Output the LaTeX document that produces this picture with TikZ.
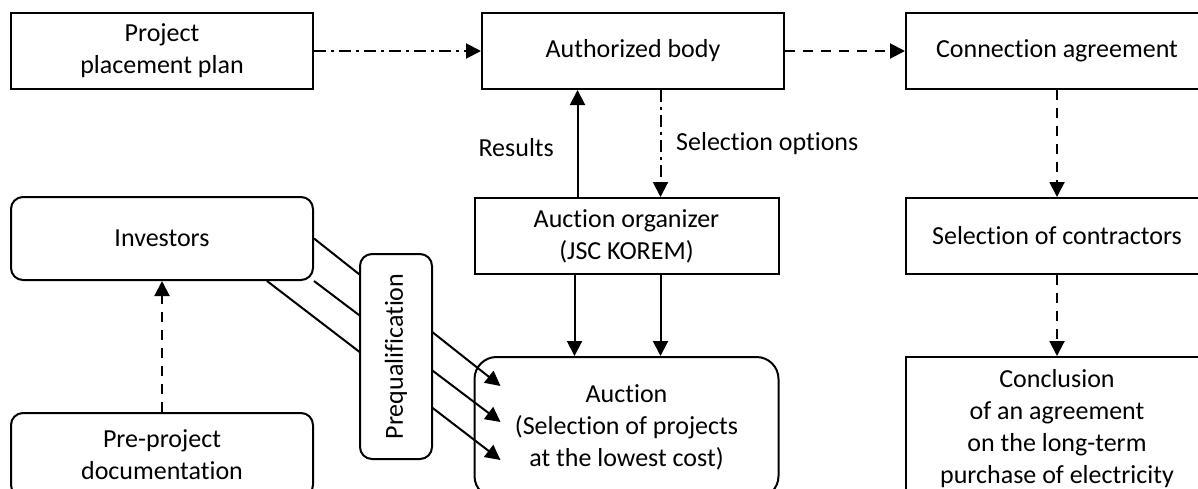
\documentclass[tikz,border=0pt]{standalone}
\usepackage{fontspec}
\setmainfont{Carlito}[RawFeature=-liga]
\usetikzlibrary{arrows.meta,positioning,calc}
\tikzstyle{block} = [rectangle, minimum width=151pt, minimum height=38pt, text centered, align=center, draw=black, line width=1pt]
\tikzstyle{rblock} = [block, rounded corners=6pt]
\tikzstyle{arrow} = [line width=1pt, -{Triangle[length=7.5pt,width=7.5pt]}]
\tikzstyle{dashline} = [arrow, dash pattern=on 5pt off 4pt]
\tikzstyle{dotdash} = [arrow, dash pattern=on 6pt off 2.5pt on 1.5pt off 2.5pt]

\begin{document}
\begin{tikzpicture}[x=0.5pt, y=-0.5pt, font=\fontsize{13pt}{16pt}\selectfont]
	\useasboundingbox (0,0) rectangle (1198,488);
	\clip (0,0) rectangle (1198,488);
	\node (plan) [block] at (162,51) {Project\\placement plan};
	\node (auth) [block, right=83.5pt of plan] {Authorized body};
	\node (conn) [block, right=60pt of auth] {Connection agreement};
	\node (org) [block, below=53.5pt of auth, xshift=-3.25pt, minimum width=152pt] {Auction organizer\\(JSC KOREM)};
	\node (contr) [block, below=53.5pt of conn] {Selection of contractors};
	\node (auction) [rblock, rounded corners=11pt, below=40.5pt of org, minimum width=152pt, minimum height=70.5pt] {Auction\\(Selection of projects\\at the lowest cost)};
	\node (concl) [block, below=40.5pt of contr, minimum height=71.5pt] {Conclusion\\of an agreement\\on the long-term\\purchase of electricity};
	\node (inv) [rblock, below=53pt of plan, minimum height=41.5pt] {Investors};
	\node (pre) [rblock, below=65.5pt of inv, minimum height=42pt] {Pre-project\\documentation};
	\draw [dotdash] (plan) -- (auth);
	\draw [dashline] (auth) -- (conn);
	\draw [arrow] ([xshift=-24.5pt]org.north) -- node[left=8pt, yshift=-2pt]{Results} ([xshift=-24.5pt]org.north |- auth.south);
	\draw [dotdash] ([xshift=13.75pt]auth.south) -- node[right=4pt]{Selection options} ([xshift=13.75pt]auth.south |- org.north);
	\draw [arrow] ([xshift=-26pt]org.south) -- ([xshift=-26pt]org.south |- auction.north);
	\draw [arrow] ([xshift=17pt]org.south) -- ([xshift=17pt]org.south |- auction.north);
	\draw [dashline] (conn) -- (contr);
	\draw [dashline] (contr) -- (concl);
	\draw [dashline] (pre) -- (inv);
	% lines run under the prequalification box
	\draw [arrow] (inv.east) -- ($(auction.west)+(27,-41.5)$);
	\draw [arrow] (inv.south east) -- ($(auction.west)+(27,-5.5)$);
	\draw [arrow] ([xshift=-23.5pt]inv.south east) -- ($(auction.west)+(27,32.5)$);
	\node (prequal) [rblock, rotate=90, minimum width=102.5pt, minimum height=36pt, fill=white] at (396,356.5) {Prequalification};
\end{tikzpicture}
\end{document}
